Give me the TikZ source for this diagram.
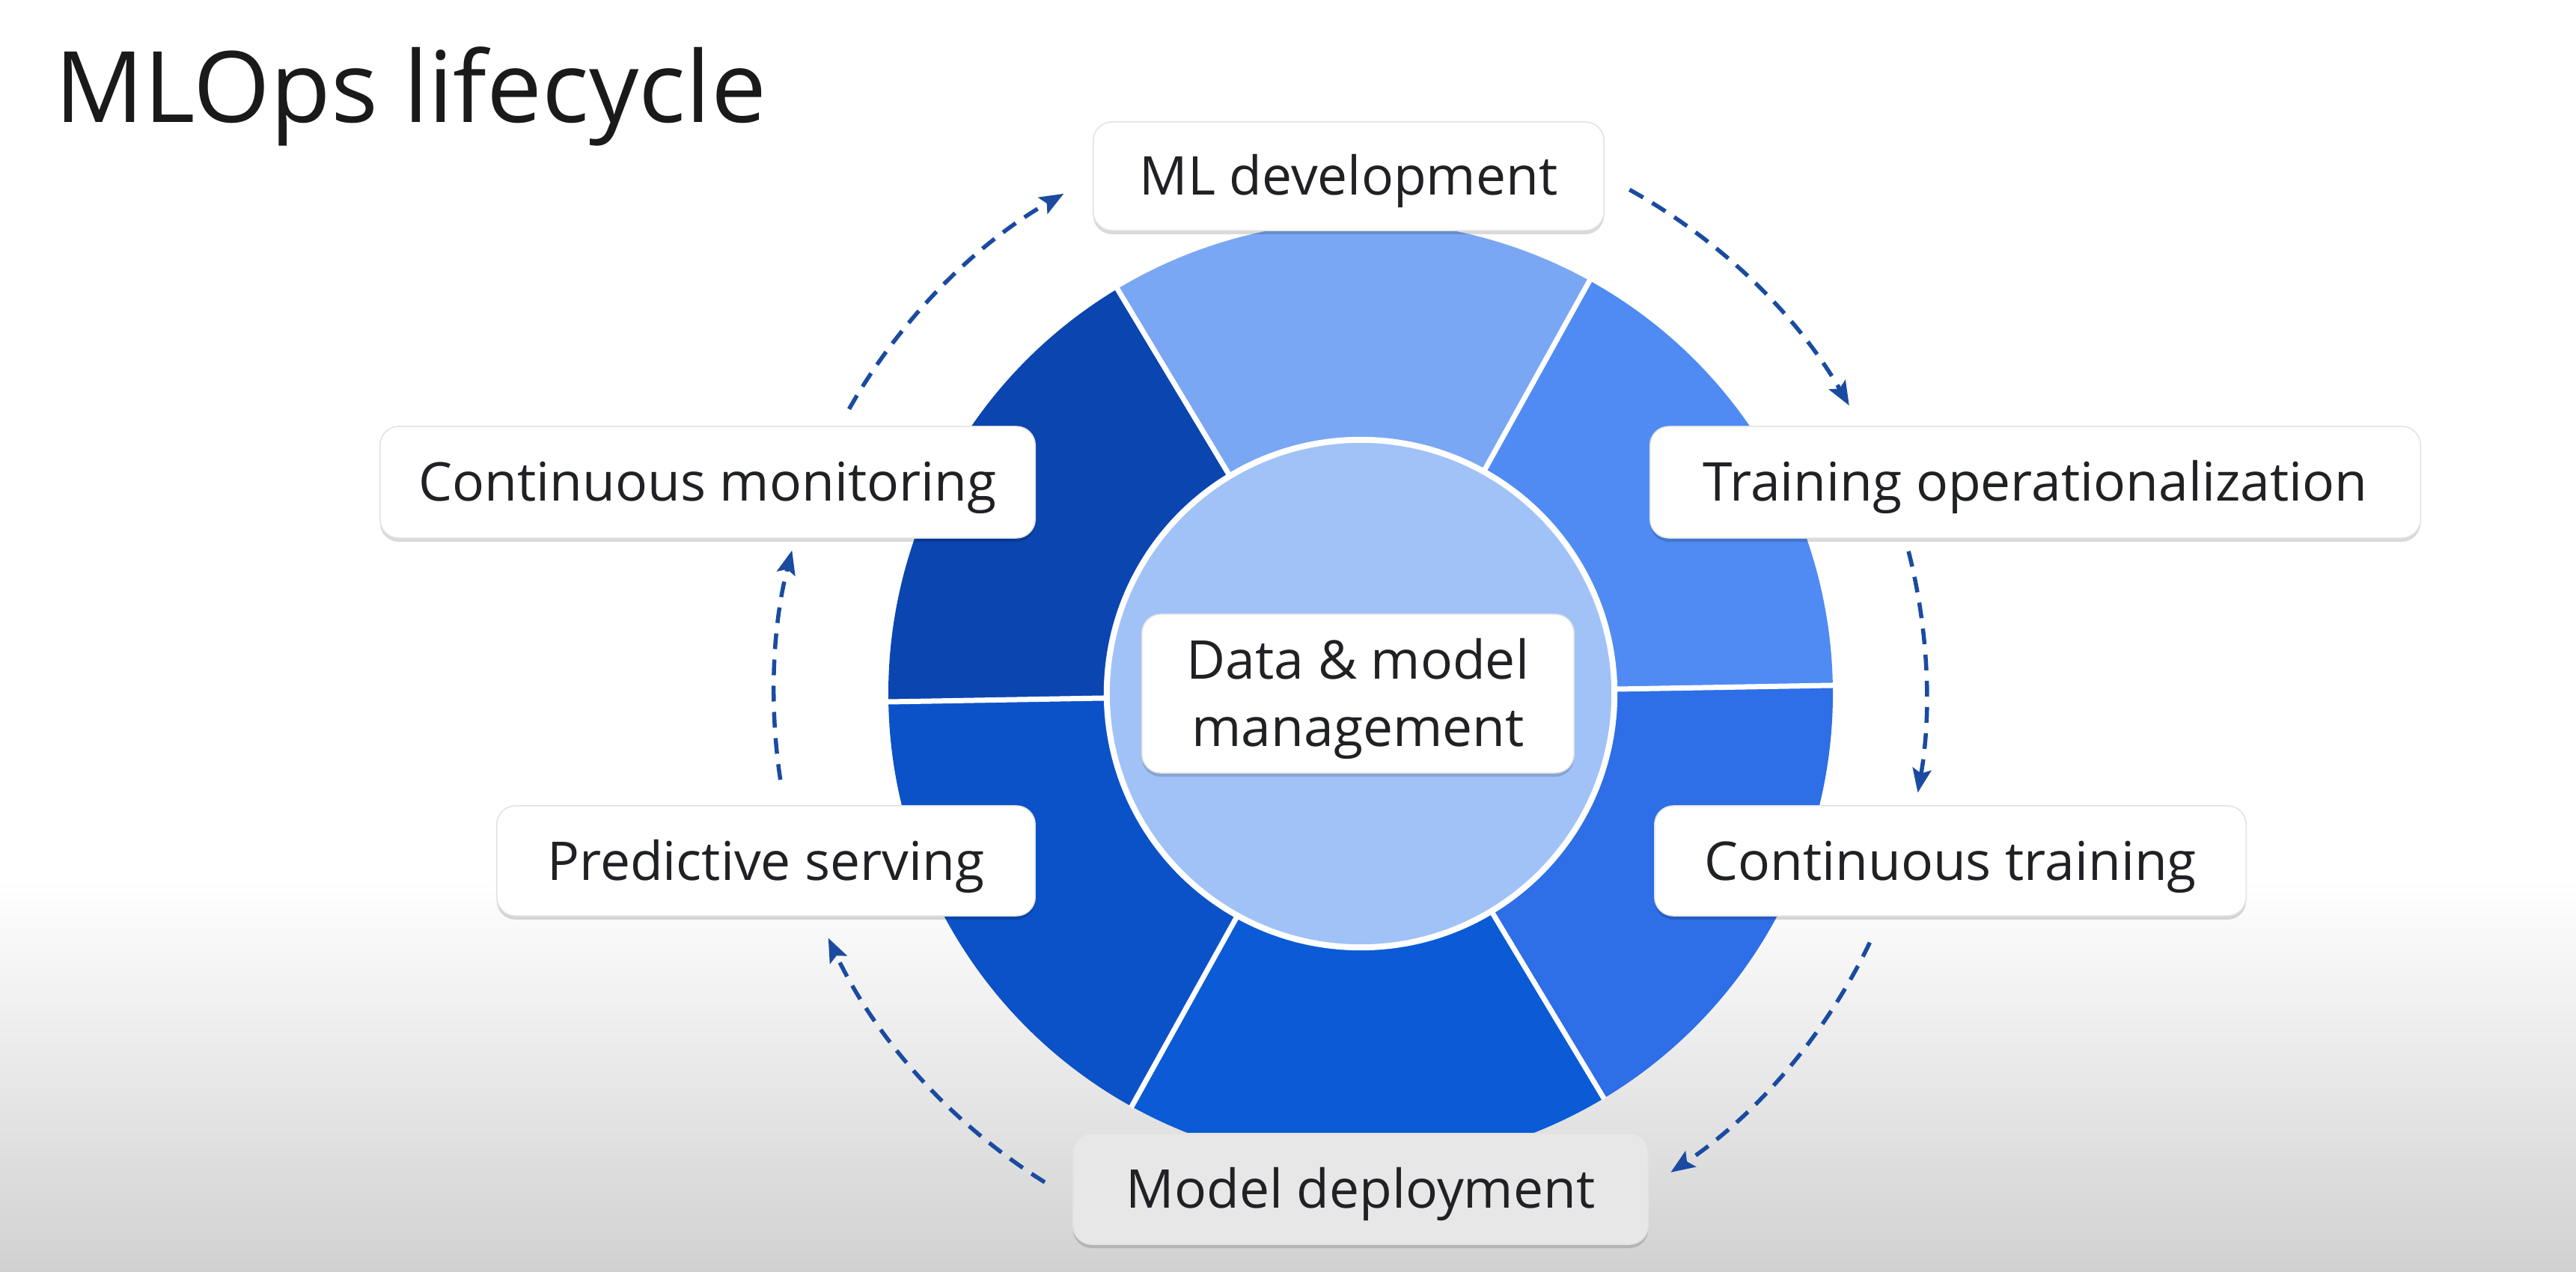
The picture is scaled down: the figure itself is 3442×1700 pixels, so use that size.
\documentclass[tikz,border=0pt]{standalone}
\usepackage{fontspec}
\setmainfont{Open Sans}
\usetikzlibrary{arrows.meta,shadows}
\definecolor{segML}{HTML}{7AA7F3}
\definecolor{segTO}{HTML}{4F8BF2}
\definecolor{segCT}{HTML}{2E6EE6}
\definecolor{segMD}{HTML}{0A5BD5}
\definecolor{segPS}{HTML}{0B52C8}
\definecolor{segCM}{HTML}{0B45AF}
\definecolor{segIn}{HTML}{A1C2F7}
\definecolor{arrowc}{HTML}{1A4BA0}
\definecolor{txt}{HTML}{202124}
\definecolor{titlec}{HTML}{1A1A1A}
\definecolor{boxline}{HTML}{E2E2E2}
\definecolor{bgbot}{HTML}{D1D1D1}
\definecolor{mdfill}{HTML}{E7E7E7}
\begin{document}
\begin{tikzpicture}[x=0.01cm,y=0.01cm,
  lbl/.style={draw=boxline, line width=0.015cm, fill=white, rounded corners=0.25cm,
    text=txt, font=\fontsize{20.3pt}{25.6pt}\selectfont, text height=0.51cm, text depth=0pt,
    inner sep=0pt, align=center,
    drop shadow={shadow xshift=0cm, shadow yshift=-0.05cm, opacity=0.15, fill=black}},
  flow/.style={draw=arrowc, line width=0.055cm, dash pattern=on 0.21cm off 0.14cm,
    -{Stealth[length=0.32cm,width=0.25cm,inset=0.06cm]}}]
\useasboundingbox (0,0) rectangle (3442,1700);
\fill[white] (0,0) rectangle (3442,1700);
\shade[top color=white, bottom color=bgbot] (0,0) rectangle (3442,526);

% ring
\coordinate (C) at (1818,773);
\foreach \a/\b/\c in {1/61/segTO, 61/121/segML, 121/181/segCM, 181/241/segPS, 241/301/segMD, 301/361/segCT}
  \fill[\c] (C) -- ++(\a:631) arc[start angle=\a, end angle=\b, radius=631] -- cycle;
\foreach \a in {1,61,121,181,241,301}
  \draw[white, line width=0.07cm] (C) -- ++(\a:632);
\node[circle, fill=segIn, draw=white, line width=0.08cm, minimum size=6.78cm, inner sep=0pt] (hub) at (C) {};

% title
\node[anchor=base west, inner sep=0pt, font=\fontsize{37.5pt}{44pt}\selectfont, text=titlec] (title) at (73,1536) {MLOps lifecycle};

% labels
\node[lbl, minimum width=6.82cm, minimum height=1.45cm] (mldev) at (1802,1464.5) {ML development};
\node[lbl, minimum width=10.29cm, minimum height=1.49cm] (trop) at (2719.5,1055.5) {Training operationalization};
\node[lbl, minimum width=7.90cm, minimum height=1.47cm] (ctr) at (2606,549.5) {Continuous training};
\node[lbl, minimum width=7.68cm, minimum height=1.48cm, fill=mdfill] (mdep) at (1818,111) {Model deployment};
\node[lbl, minimum width=7.19cm, minimum height=1.47cm] (pserv) at (1023.5,549.5) {Predictive serving};
\node[lbl, minimum width=8.75cm, minimum height=1.49cm] (cmon) at (945.5,1055.5) {Continuous monitoring};
\node[lbl, minimum width=5.77cm, minimum height=2.12cm, text height=1.41cm, text depth=0pt] (dmm) at (1814.5,773) {Data \& model\\management};

% arrows
\coordinate (AC) at (1804,773);
\path (AC) ++(150.4:770) coordinate (a1s);
\path (AC) ++(61.0:770) coordinate (a2s);
\path (AC) ++(14.3:770) coordinate (a3s);
\path (AC) ++(-25.6:770) coordinate (a4s);
\path (AC) ++(238:770) coordinate (a5s);
\path (AC) ++(188.6:770) coordinate (a6s);
\draw[flow] (a1s) arc[start angle=150.4, end angle=119.8, radius=770];
\draw[flow] (a2s) arc[start angle=61.0, end angle=30.0, radius=770];
\draw[flow] (a3s) arc[start angle=14.3, end angle=-9.9, radius=770];
\draw[flow] (a4s) arc[start angle=-25.6, end angle=-56.2, radius=770];
\draw[flow] (a5s) arc[start angle=238, end angle=205.1, radius=770];
\draw[flow] (a6s) arc[start angle=188.6, end angle=165.6, radius=770];
\end{tikzpicture}
\end{document}
